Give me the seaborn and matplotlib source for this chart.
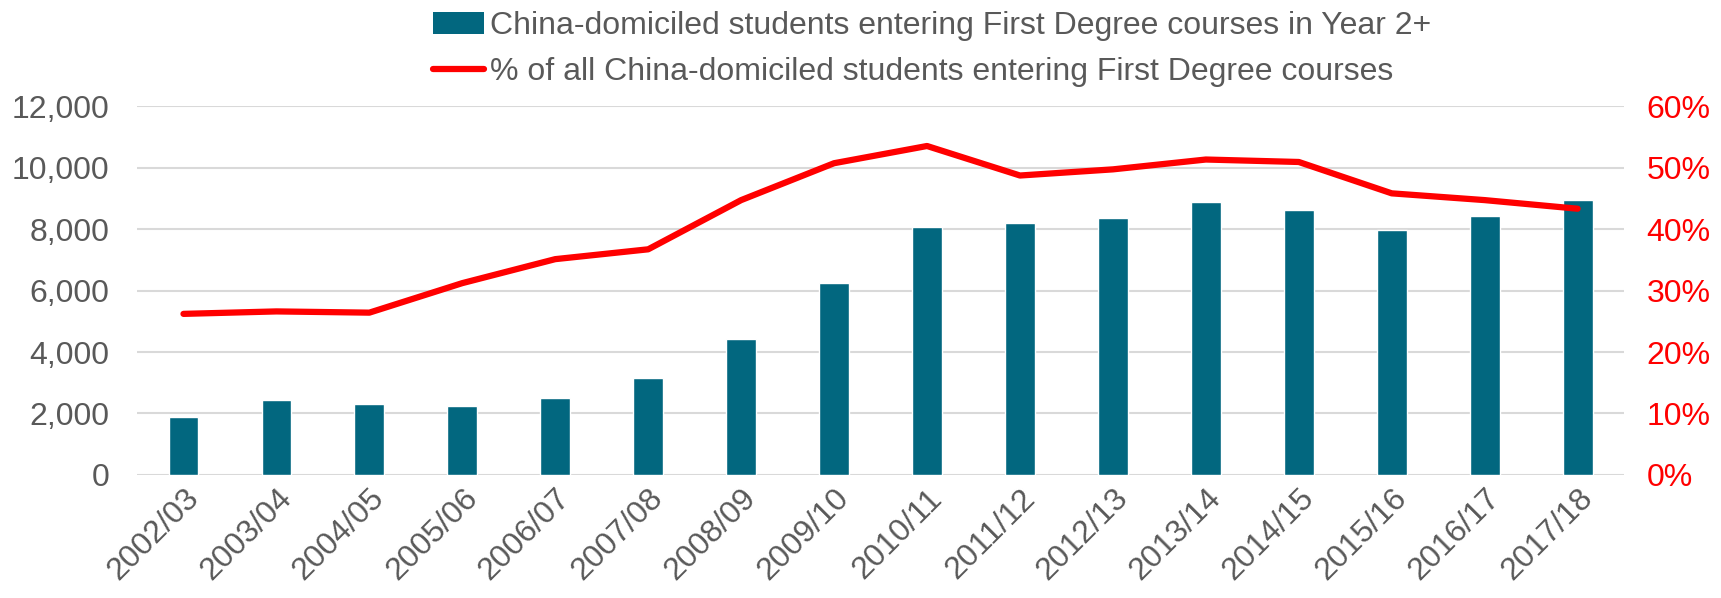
import numpy as np
import pandas as pd
import matplotlib.pyplot as plt
import seaborn as sns
from matplotlib.patches import Patch
from matplotlib.lines import Line2D
from matplotlib.ticker import FuncFormatter

sns.set_theme(style="white")
plt.rcParams['font.family'] = ['Liberation Sans', 'DejaVu Sans']

years = ["2002/03", "2003/04", "2004/05", "2005/06", "2006/07", "2007/08",
         "2008/09", "2009/10", "2010/11", "2011/12", "2012/13", "2013/14",
         "2014/15", "2015/16", "2016/17", "2017/18"]
students_year2 = [1900, 2450, 2300, 2260, 2490, 3150, 4410, 6230,
                  8070, 8210, 8360, 8890, 8630, 7980, 8430, 8950]
pct_year2 = [26.2, 26.6, 26.4, 31.2, 35.1, 36.7, 44.7, 50.7,
             53.5, 48.7, 49.7, 51.3, 50.9, 45.8, 44.7, 43.3]

bar_label = "China-domiciled students entering First Degree courses in Year 2+"
line_label = "% of all China-domiciled students entering First Degree courses"

bar_color = "#02677f"
line_color = "#ff0000"
text_color = "#595959"
grid_color = "#d9d9d9"
fs = 23

df = pd.DataFrame({"year": years, "students": students_year2, "pct": pct_year2})
df["pos"] = np.arange(len(df))

fig = plt.figure(figsize=(17.21, 5.98), dpi=100)
ax = fig.add_axes([0.0796, 0.2057, 0.8641, 0.617])

sns.barplot(data=df, x="year", y="students", color=bar_color, width=0.32,
            saturation=1, ax=ax, zorder=2)
ax.set_ylim(0, 12000)
ax.set_yticks(range(0, 12001, 2000))
ax.yaxis.set_major_formatter(FuncFormatter(lambda v, p: f"{int(v):,}"))
ax.yaxis.grid(True, color=grid_color, linewidth=1.5, zorder=0)
ax.set_axisbelow(True)
ax.set_xlim(-0.5, len(years) - 0.5)
ax.set_xlabel("")
ax.set_ylabel("")
for s in ax.spines.values():
    s.set_visible(False)
ax.tick_params(axis="y", colors=text_color, labelsize=fs, length=0, pad=20)
ax.tick_params(axis="x", colors=text_color, labelsize=fs, length=0, pad=6)
plt.setp(ax.get_xticklabels(), rotation=45, ha="right", rotation_mode="anchor")

ax2 = ax.twinx()
sns.lineplot(data=df, x="pos", y="pct", color=line_color, linewidth=4.5,
             ax=ax2, solid_capstyle="round", solid_joinstyle="round")
ax2.set_ylim(0, 60)
ax2.set_yticks(range(0, 61, 10))
ax2.yaxis.set_major_formatter(FuncFormatter(lambda v, p: f"{int(v)}%"))
ax2.set_xlim(-0.5, len(years) - 0.5)
ax2.set_xlabel("")
ax2.set_ylabel("")
for s in ax2.spines.values():
    s.set_visible(False)
ax2.tick_params(axis="y", colors=line_color, labelsize=fs, length=0, pad=16)

handles = [Patch(facecolor=bar_color, edgecolor="none"),
           Line2D([0], [0], color=line_color, linewidth=4.5, solid_capstyle="round")]
leg = fig.legend(handles, [bar_label, line_label], loc="center",
                 bbox_to_anchor=(0.5415, 0.918), frameon=False, fontsize=fs,
                 handlelength=1.6, handletextpad=0.2, labelspacing=0.5)
for t in leg.get_texts():
    t.set_color(text_color)

fig.savefig("out.png", dpi=100)
